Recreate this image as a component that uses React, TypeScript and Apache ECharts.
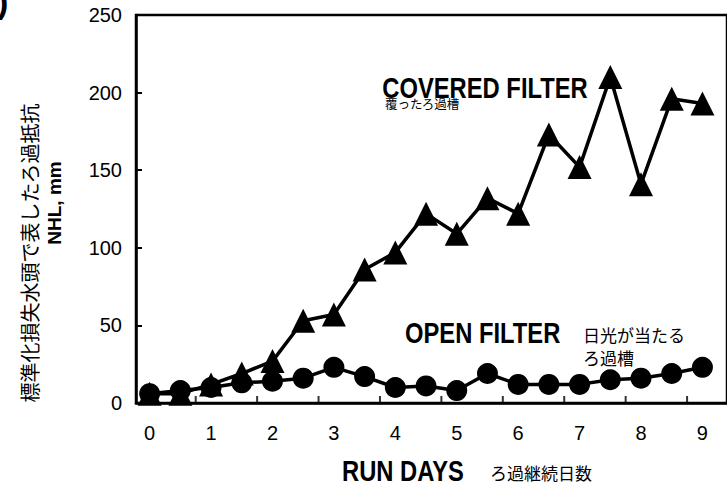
import React, { useEffect, useRef } from "react";
import * as echarts from "echarts";

const days = [0, 0.5, 1, 1.5, 2, 2.5, 3, 3.5, 4, 4.5, 5, 5.5, 6, 6.5, 7, 7.5, 8, 8.5, 9];
const coveredNHL = [6, 6, 12, 19, 27, 53, 57, 86, 97, 122, 109, 132, 122, 173, 152, 210, 141, 196, 193];
const openNHL = [6, 8, 10, 13, 14, 16, 23, 17, 10, 11, 8, 19, 12, 12, 12, 15, 16, 19, 23];
const xLabelValues = [0, 1, 2, 3, 4, 5, 6, 7, 8, 9];
const xTickValues = [0.75, 1.75, 2.75, 3.75, 4.75, 5.75, 6.75, 7.75, 8.75];
const yTicks = [0, 50, 100, 150, 200, 250];

const SANS = '"Liberation Sans", Arial, sans-serif';
const JP = '"Noto Sans CJK JP", sans-serif';
const NARROW_SCALE = 0.82;

export default function App() {
  const ref = useRef<HTMLDivElement>(null);
  useEffect(() => {
    if (!ref.current) return;
    const chart = echarts.init(ref.current, undefined, { renderer: "svg" });
    const pairs = (ys: number[]) => days.map((d, i) => [d, ys[i]]);
    const boldNarrow = (text: string, x: number, y: number, align: string) => ({
      type: "text",
      x,
      y,
      scaleX: NARROW_SCALE,
      style: { text, fontSize: 29, fontWeight: "bold", fontFamily: SANS, fill: "#000", align, verticalAlign: "middle" },
    });
    chart.setOption({
      animation: false,
      backgroundColor: "#ffffff",
      grid: {
        left: 136,
        top: 15,
        bottom: 84,
        right: -15,
        show: true,
        borderColor: "#000",
        borderWidth: 2.5,
        backgroundColor: "transparent",
      },
      xAxis: {
        type: "value",
        min: -0.222,
        max: 9.4,
        axisLine: { show: true, onZero: false, lineStyle: { color: "#000", width: 2.5 } },
        axisTick: { show: false },
        axisLabel: {
          show: true,
          customValues: xLabelValues,
          formatter: (v: number) => String(Math.round(v)),
          color: "#000",
          fontSize: 20,
          fontFamily: SANS,
          margin: 20,
        },
        splitLine: { show: false },
      },
      yAxis: {
        type: "value",
        min: yTicks[0],
        max: yTicks[yTicks.length - 1],
        interval: 50,
        axisLine: { show: true, onZero: false, lineStyle: { color: "#000", width: 2.5 } },
        axisTick: { show: true, inside: true, length: 6, lineStyle: { color: "#000", width: 2 } },
        axisLabel: { color: "#000", fontSize: 20, fontFamily: SANS, margin: 14 },
        splitLine: { show: false },
      },
      series: [
        {
          type: "scatter",
          silent: true,
          data: xTickValues.map((v) => [v, 0]),
          symbol: "rect",
          symbolSize: [2, 7],
          symbolOffset: [0, -3.5],
          itemStyle: { color: "#000" },
          z: 1,
        },
        {
          type: "line",
          name: "OPEN FILTER",
          data: pairs(openNHL),
          symbol: "circle",
          symbolSize: 21,
          lineStyle: { color: "#000", width: 3.5 },
          itemStyle: { color: "#000" },
          z: 3,
        },
        {
          type: "line",
          name: "COVERED FILTER",
          data: pairs(coveredNHL),
          symbol: "triangle",
          symbolSize: [24, 24],
          lineStyle: { color: "#000", width: 3.5 },
          itemStyle: { color: "#000" },
          z: 4,
        },
      ],
      graphic: [
        {
          type: "text",
          x: -3,
          y: 18,
          style: { text: ")", fontSize: 34, fontWeight: "bold", fontFamily: SANS, fill: "#000", verticalAlign: "bottom", align: "left" },
        },
        boldNarrow("COVERED FILTER", 485, 88, "center"),
        {
          type: "text",
          x: 385,
          y: 103,
          style: { text: "覆ったろ過槽", fontSize: 12.5, fontFamily: JP, fill: "#000", align: "left", verticalAlign: "middle" },
        },
        boldNarrow("OPEN FILTER", 405, 333, "left"),
        {
          type: "text",
          x: 583,
          y: 334,
          style: { text: "日光が当たる", fontSize: 17, fontFamily: JP, fill: "#000", align: "left", verticalAlign: "middle" },
        },
        {
          type: "text",
          x: 583,
          y: 357,
          style: { text: "ろ過槽", fontSize: 17, fontFamily: JP, fill: "#000", align: "left", verticalAlign: "middle" },
        },
        boldNarrow("RUN DAYS", 342, 471, "left"),
        {
          type: "text",
          x: 490,
          y: 472,
          style: { text: "ろ過継続日数", fontSize: 17, fontFamily: JP, fill: "#000", align: "left", verticalAlign: "middle" },
        },
        {
          type: "text",
          x: 29,
          y: 253,
          rotation: Math.PI / 2,
          style: { text: "標準化損失水頭で表したろ過抵抗", fontSize: 20, fontFamily: JP, fill: "#000", align: "center", verticalAlign: "middle" },
        },
        {
          type: "text",
          x: 54,
          y: 203,
          rotation: Math.PI / 2,
          style: { text: "NHL, mm", fontSize: 19, fontWeight: "bold", fontFamily: SANS, fill: "#000", align: "center", verticalAlign: "middle" },
        },
      ],
    });
    return () => chart.dispose();
  }, []);
  return (
    <div
      ref={ref}
      style={{ position: "fixed", left: 0, top: 0, width: 727, height: 487, background: "#fff" }}
    />
  );
}
